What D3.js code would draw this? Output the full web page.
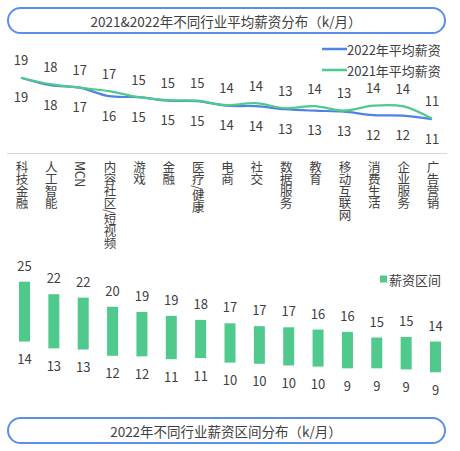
<!DOCTYPE html>
<html>
<head>
<meta charset="utf-8">
<script src="https://cdn.jsdelivr.net/npm/d3@7"></script>
<style>
  body { margin: 0; background: #fff; }
  text { font-family: "Noto Sans CJK SC", "Noto Sans", sans-serif; fill: #404040; }
</style>
</head>
<body>
<svg id="chart" width="460" height="451"></svg>
<script>

// industries
const categories = ["科技金融", "人工智能", "MCN", "内容社区/短视频", "游戏", "金融", "医疗/健康",
  "电商", "社交", "数据服务", "教育", "移动互联网", "消费生活", "企业服务", "广告营销"]

// average salary (k/month)
const avg2022 = [19.3, 17.8, 17.3, 15.6, 15.4, 14.7, 14.6, 13.7, 13.6, 13.0, 12.7, 12.5, 11.8, 11.7, 11.0]
const avg2021 = [19.3, 18.0, 17.3, 16.6, 15.4, 14.8, 14.7, 13.8, 14.2, 13.2, 13.6, 12.7, 13.7, 13.6, 11.1]

// 2022 salary range
const rangeMax = [24.6, 22.4, 21.8, 20.2, 19.3, 18.6, 17.9, 17.3, 16.8, 16.6, 16.2, 15.8, 14.8, 14.9, 14.1]
const rangeMin = [14.1, 12.9, 12.7, 11.6, 11.5, 11.0, 11.2, 10.4, 10.2, 9.9, 9.7, 9.4, 9.4, 9.2, 8.7]

const titleTop = "2021&2022年不同行业平均薪资分布（k/月）"
const titleBottom = "2022年不同行业薪资区间分布（k/月）"

const blue = "#4f82e3"
const green = "#4fc98c"

const svg = d3.select("#chart")

// title pills
function drawTitle( y, label )
{
  svg.append("rect")
     .attr("x", 8).attr("y", y)
     .attr("width", 437).attr("height", 25)
     .attr("rx", 12.5)
     .attr("fill", "#fff")
     .attr("stroke", "#5b8ee8")
     .attr("stroke-width", 2)
  svg.append("text")
     .attr("x", 226).attr("y", y + 13)
     .attr("text-anchor", "middle")
     .attr("dominant-baseline", "central")
     .attr("font-size", 13.5)
     .text( label )
}
drawTitle( 8, titleTop )
drawTitle( 418, titleBottom )

// ---- line chart ----
const x = d3.scalePoint()
            .domain( d3.range( categories.length ) )
            .range([21, 432])

const yLine = d3.scaleLinear()
                .domain([11, 19.3])
                .range([119.2, 77.7])

const line = d3.line()
               .x( (d, i) => x(i) )
               .y( d => yLine(d) )
               .curve( d3.curveCatmullRom.alpha(0.5) )

svg.append("path")
   .attr("d", line( avg2022 ))
   .attr("fill", "none")
   .attr("stroke", blue)
   .attr("stroke-width", 2.2)

svg.append("path")
   .attr("d", line( avg2021 ))
   .attr("fill", "none")
   .attr("stroke", green)
   .attr("stroke-width", 2.2)

svg.append("g").selectAll("text")
   .data( avg2021 )
   .join("text")
   .attr("x", (d, i) => x(i))
   .attr("y", d => yLine(d) - 18)
   .attr("text-anchor", "middle")
   .attr("dominant-baseline", "central")
   .attr("font-size", 13)
   .text( d => Math.round(d) )

svg.append("g").selectAll("text")
   .data( avg2022 )
   .join("text")
   .attr("x", (d, i) => x(i))
   .attr("y", d => yLine(d) + 19)
   .attr("text-anchor", "middle")
   .attr("dominant-baseline", "central")
   .attr("font-size", 13)
   .text( d => Math.round(d) )

// legend for lines
const legendLines = [ { label: "2022年平均薪资", color: blue, y: 49 },
                      { label: "2021年平均薪资", color: green, y: 70 } ]
legendLines.forEach( l => {
  svg.append("line")
     .attr("x1", 322).attr("x2", 347)
     .attr("y1", l.y).attr("y2", l.y)
     .attr("stroke", l.color).attr("stroke-width", 2.5)
  svg.append("text")
     .attr("x", 347).attr("y", l.y)
     .attr("dominant-baseline", "central")
     .attr("font-size", 13)
     .text( l.label )
})

// ---- category axis ----
svg.append("line")
   .attr("x1", 7).attr("x2", 447)
   .attr("y1", 153.5).attr("y2", 153.5)
   .attr("stroke", "#d9d9d9")

svg.append("g").selectAll("text")
   .data( categories )
   .join("text")
   .attr("x", (d, i) => x(i) + 1)
   .attr("y", 161)
   .attr("font-size", 12.5)
   .style("writing-mode", "vertical-rl")
   .style("letter-spacing", "-0.5px")
   .text( d => d )

// ---- range bars ----
const yBar = d3.scaleLinear()
               .domain([8.7, 24.6])
               .range([372.3, 281.7])

const barW = 11

svg.append("g").selectAll("rect")
   .data( categories )
   .join("rect")
   .attr("x", (d, i) => x(i) + 3.5 - barW / 2)
   .attr("y", (d, i) => yBar( rangeMax[i] ))
   .attr("width", barW)
   .attr("height", (d, i) => yBar( rangeMin[i] ) - yBar( rangeMax[i] ))
   .attr("fill", green)

svg.append("g").selectAll("text")
   .data( rangeMax )
   .join("text")
   .attr("x", (d, i) => x(i) + 3.5)
   .attr("y", d => yBar(d) - 16.5)
   .attr("text-anchor", "middle")
   .attr("dominant-baseline", "central")
   .attr("font-size", 13)
   .text( d => Math.round(d) )

svg.append("g").selectAll("text")
   .data( rangeMin )
   .join("text")
   .attr("x", (d, i) => x(i) + 3.5)
   .attr("y", d => yBar(d) + 17)
   .attr("text-anchor", "middle")
   .attr("dominant-baseline", "central")
   .attr("font-size", 13)
   .text( d => Math.round(d) )

// legend for bars
svg.append("rect")
   .attr("x", 380).attr("y", 275.5)
   .attr("width", 7).attr("height", 7)
   .attr("fill", green)
svg.append("text")
   .attr("x", 389).attr("y", 279)
   .attr("dominant-baseline", "central")
   .attr("font-size", 13)
   .text("薪资区间")

</script>
</body>
</html>
